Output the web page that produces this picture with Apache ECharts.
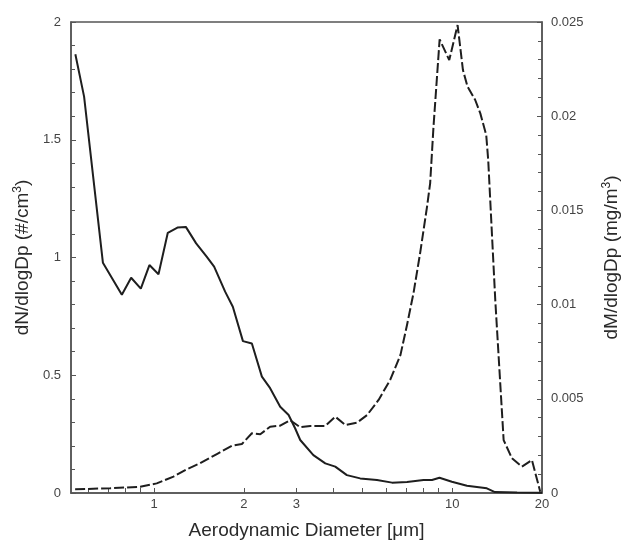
<!DOCTYPE html>
<html>
<head>
<meta charset="utf-8">
<script src="https://cdn.jsdelivr.net/npm/echarts@6/dist/echarts.min.js"></script>
<style>html,body{margin:0;padding:0;background:#fff}#c{width:622px;height:542px}</style>
</head>
<body>
<div id="c"></div>
<script>
// Number concentration (left axis, solid)
const nDiameter = [0.544,0.582,0.673,0.779,0.837,0.902,0.964,1.034,1.111,1.197,1.277,1.383,1.502,1.589,1.73,1.836,1.985,2.127,2.298,2.449,2.647,2.825,2.97,3.09,3.42,3.75,4.05,4.43,4.91,5.59,6.28,7.05,8.01,8.55,9.06,9.97,11.2,13.06,13.9,16.5,20];
const nValues = [1.863,1.683,0.978,0.842,0.914,0.868,0.968,0.929,1.105,1.127,1.130,1.060,1.003,0.961,0.855,0.791,0.645,0.635,0.494,0.445,0.366,0.331,0.275,0.225,0.161,0.126,0.112,0.076,0.062,0.055,0.044,0.047,0.055,0.055,0.065,0.048,0.031,0.020,0.004,0.002,0.001];
// Mass concentration (right axis, dashed)
const mDiameter = [0.543,0.712,0.898,1.02,1.161,1.287,1.427,1.623,1.823,1.969,2.127,2.27,2.449,2.647,2.857,3.09,3.34,3.75,4.05,4.38,4.79,5.18,5.66,6.19,6.70,7.05,7.41,7.8,8.23,8.43,8.65,9.07,9.77,10.42,10.86,11.25,11.94,12.42,13.0,13.2,13.94,14.87,15.86,17.13,18.5,19.73];
const mValues = [0.0002,0.00025,0.00033,0.00051,0.00087,0.00126,0.00158,0.00207,0.00251,0.0026,0.00317,0.00312,0.00352,0.00357,0.00387,0.00349,0.00356,0.00356,0.00405,0.00361,0.00373,0.00414,0.00494,0.006,0.00732,0.00892,0.0106,0.01272,0.0152,0.01644,0.01944,0.02408,0.02298,0.02484,0.02245,0.02157,0.02086,0.02015,0.019,0.01768,0.01024,0.00281,0.00184,0.0014,0.00175,0.00007];
// Tick labels
const xTickLabels = [1, 2, 3, 10, 20];
const xTickMarks = [0.6,0.7,0.8,0.9,1,2,3,4,5,6,7,8,9,10,20];
const leftTicks = [0, 0.5, 1, 1.5, 2];
const rightTicks = [0, 0.005, 0.01, 0.015, 0.02, 0.025];

const chart = echarts.init(document.getElementById('c'), null, {renderer: 'canvas'});
const axisColor = '#555';
const labelColor = '#444';
const titleColor = '#2a2a2a';
const fontFam = 'Liberation Sans, Arial, sans-serif';
const nData = nDiameter.map((d, i) => [d, nValues[i]]);
const mData = mDiameter.map((d, i) => [d, mValues[i]]);
const supStyle = {fontSize: 12, color: titleColor, fontFamily: fontFam, padding: [0, 0, 10, 0]};

chart.setOption({
  animation: false,
  grid: {left: 71, right: 80, top: 22, bottom: 49, outerBoundsMode: 'none', containLabel: false,
         show: true, borderColor: axisColor, borderWidth: 1.5, backgroundColor: 'transparent'},
  xAxis: {
    type: 'log', logBase: 10, min: 0.526, max: 20,
    name: 'Aerodynamic Diameter [\u03bcm]', nameLocation: 'middle', nameGap: 28,
    nameTextStyle: {fontSize: 19, color: titleColor, fontFamily: fontFam},
    axisLine: {show: true, lineStyle: {color: axisColor, width: 1.5}},
    axisTick: {show: true, inside: true, length: 5, customValues: xTickMarks, lineStyle: {color: axisColor, width: 1}},
    axisLabel: {customValues: xTickLabels, color: labelColor, fontSize: 13, fontFamily: fontFam, margin: 5, formatter: v => String(Math.round(v * 100) / 100)},
    splitLine: {show: false}, minorTick: {show: false}
  },
  yAxis: [{
    type: 'value', min: leftTicks[0], max: leftTicks[leftTicks.length - 1], interval: 0.5, position: 'left',
    name: 'dN/dlogDp (#/cm{sup|3})', nameLocation: 'middle', nameRotate: 90, nameGap: 36,
    nameTextStyle: {fontSize: 19, color: titleColor, fontFamily: fontFam, rich: {sup: supStyle}},
    axisLine: {show: true, lineStyle: {color: axisColor, width: 1.5}},
    axisTick: {show: true, inside: true, length: 5, lineStyle: {color: axisColor}},
    minorTick: {show: true, splitNumber: 5, length: 4, lineStyle: {color: axisColor}},
    axisLabel: {color: labelColor, fontSize: 13, fontFamily: fontFam, margin: 10, formatter: v => String(v)},
    splitLine: {show: false}
  }, {
    type: 'value', min: rightTicks[0], max: rightTicks[rightTicks.length - 1], interval: 0.005, position: 'right',
    name: 'dM/dlogDp (mg/m{sup|3})', nameLocation: 'middle', nameRotate: 90, nameGap: 59,
    nameTextStyle: {fontSize: 19, color: titleColor, fontFamily: fontFam, rich: {sup: supStyle}},
    axisLine: {show: true, lineStyle: {color: axisColor, width: 1.5}},
    axisTick: {show: true, inside: true, length: 5, lineStyle: {color: axisColor}},
    minorTick: {show: true, splitNumber: 5, length: 4, lineStyle: {color: axisColor}},
    axisLabel: {color: labelColor, fontSize: 13, fontFamily: fontFam, margin: 9, formatter: v => String(v)},
    splitLine: {show: false}
  }],
  series: [{
    type: 'line', name: 'dN/dlogDp', yAxisIndex: 0, data: nData, showSymbol: false, symbol: 'none',
    lineStyle: {color: '#1e1e1e', width: 2}
  }, {
    type: 'line', name: 'dM/dlogDp', yAxisIndex: 1, data: mData, showSymbol: false, symbol: 'none',
    lineStyle: {color: '#1e1e1e', width: 2, type: [10, 3]}
  }]
});
</script>
</body>
</html>
